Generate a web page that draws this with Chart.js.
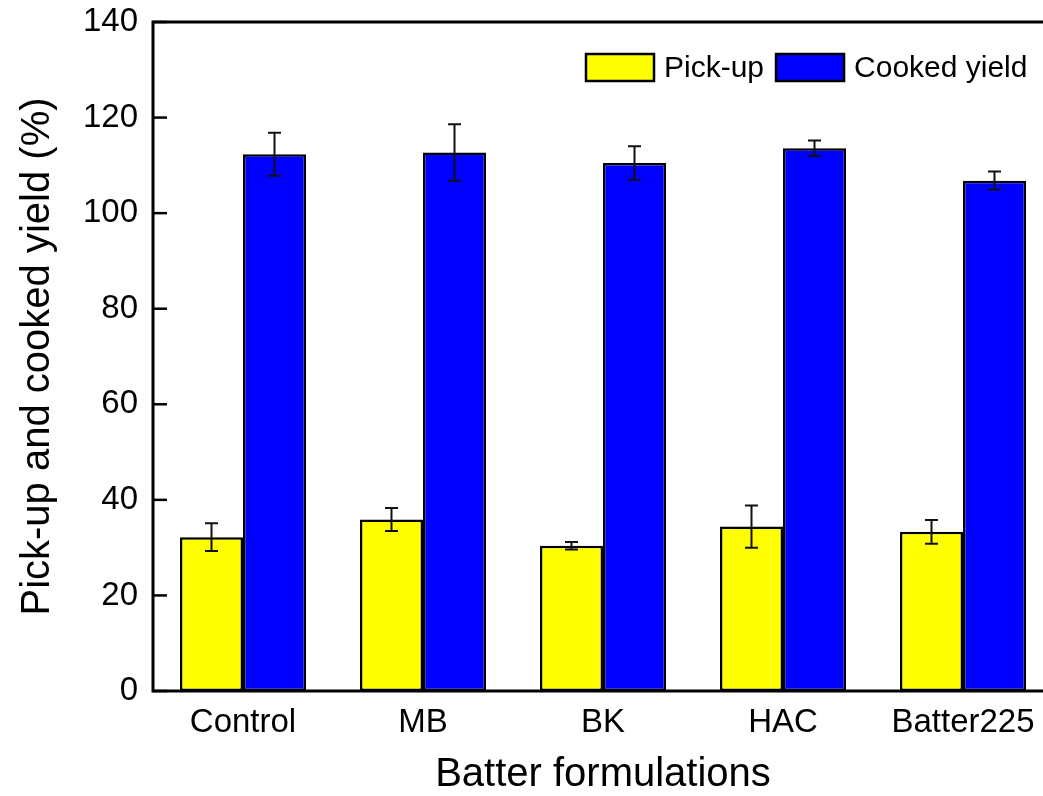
<!DOCTYPE html>
<html>
<head>
<meta charset="utf-8">
<title>Pick-up and cooked yield</title>
<script src="https://cdn.jsdelivr.net/npm/chart.js@4.4.1/dist/chart.umd.min.js"></script>
<style>
  html, body { margin: 0; padding: 0; background: #fff; overflow: hidden; }
  #wrap { position: relative; width: 1070px; height: 796px; }
</style>
</head>
<body>
<div id="wrap"><canvas id="chart" width="1070" height="796"></canvas></div>
<script>
// Batter formulations and measured yields (%), mean ± SD
const categories = ['Control', 'MB', 'BK', 'HAC', 'Batter225'];
const pickUp = [32.2, 35.9, 30.4, 34.4, 33.3];
const pickUpErr = [2.9, 2.4, 0.8, 4.4, 2.5];
const cookedYield = [112.3, 112.7, 110.5, 113.6, 106.8];
const cookedYieldErr = [4.5, 5.9, 3.5, 1.6, 1.9];
const yTicks = [0, 20, 40, 60, 80, 100, 120, 140];

const FONT = '"Liberation Sans", Arial, Helvetica, sans-serif';

// Error bars with caps, drawn on top of each bar
const errorBars = {
  id: 'errorBars',
  afterDatasetsDraw(chart) {
    const { ctx, scales: { y } } = chart;
    ctx.save();
    ctx.strokeStyle = '#111';
    ctx.lineWidth = 2;
    chart.data.datasets.forEach((ds, i) => {
      const meta = chart.getDatasetMeta(i);
      meta.data.forEach((bar, j) => {
        const v = ds.data[j], e = ds.errors[j];
        const yTop = y.getPixelForValue(v + e);
        const yBot = y.getPixelForValue(v - e);
        const cap = 6.5;
        ctx.beginPath();
        ctx.moveTo(bar.x, yTop); ctx.lineTo(bar.x, yBot);
        ctx.moveTo(bar.x - cap, yTop); ctx.lineTo(bar.x + cap, yTop);
        ctx.moveTo(bar.x - cap, yBot); ctx.lineTo(bar.x + cap, yBot);
        ctx.stroke();
      });
    });
    ctx.restore();
  }
};

// Plot frame, inward y ticks and the in-plot legend
const frameAndLegend = {
  id: 'frameAndLegend',
  afterDraw(chart) {
    const { ctx, chartArea: a, scales: { y } } = chart;
    ctx.save();
    ctx.strokeStyle = '#000';
    ctx.lineWidth = 3;
    ctx.strokeRect(a.left, a.top, a.right - a.left, a.bottom - a.top);
    ctx.lineWidth = 2.5;
    y.ticks.forEach(t => {
      const py = y.getPixelForValue(t.value);
      ctx.beginPath();
      ctx.moveTo(a.left, py); ctx.lineTo(a.left + 14, py);
      ctx.stroke();
    });

    // legend
    ctx.font = '30px ' + FONT;
    ctx.textBaseline = 'middle';
    ctx.textAlign = 'left';
    let x = 586;
    const by = 54, bw = 68, bh = 27;
    chart.data.datasets.forEach(ds => {
      ctx.fillStyle = ds.backgroundColor;
      ctx.fillRect(x, by, bw, bh);
      ctx.lineWidth = 2.5;
      ctx.strokeStyle = '#000';
      ctx.strokeRect(x, by, bw, bh);
      x += bw + 10;
      ctx.fillStyle = '#000';
      ctx.fillText(ds.label, x, by + bh / 2 + 1);
      x += ctx.measureText(ds.label).width + 12;
    });
    ctx.restore();
  }
};

new Chart(document.getElementById('chart'), {
  type: 'bar',
  data: {
    labels: categories,
    datasets: [
      { label: 'Pick-up', data: pickUp, errors: pickUpErr,
        backgroundColor: '#FFFF00', borderColor: '#000', borderWidth: 2.5,
        borderSkipped: false, categoryPercentage: 0.7, barPercentage: 1.0 },
      { label: 'Cooked yield', data: cookedYield, errors: cookedYieldErr,
        backgroundColor: '#0000FF', borderColor: '#000', borderWidth: 2.5,
        borderSkipped: false, categoryPercentage: 0.7, barPercentage: 1.0 }
    ]
  },
  options: {
    responsive: false,
    animation: false,
    layout: { padding: { left: 0, top: 22, right: 17, bottom: 0 } },
    plugins: { legend: { display: false }, tooltip: { enabled: false } },
    scales: {
      x: {
        grid: { display: false, drawTicks: false },
        border: { display: false },
        ticks: { color: '#000', font: { family: FONT, size: 33 }, padding: 12, maxRotation: 0 },
        title: { display: true, text: 'Batter formulations', color: '#000',
                 font: { family: FONT, size: 40, lineHeight: 1 }, padding: { top: 0, bottom: 1 } },
        afterFit(s) { s.height = 105; s.paddingLeft = 0; s.paddingRight = 0; }
      },
      y: {
        min: 0, max: 140,
        afterBuildTicks(s) { s.ticks = yTicks.map(v => ({ value: v })); },
        grid: { display: false, drawTicks: false },
        border: { display: false },
        ticks: { color: '#000', font: { family: FONT, size: 33 }, padding: 15 },
        title: { display: true, text: 'Pick-up and cooked yield (%)', color: '#000',
                 font: { family: FONT, size: 40, lineHeight: 1 }, padding: { top: 18, bottom: 0 } },
        afterFit(s) { s.width = 153; s.paddingTop = 0; s.paddingBottom = 0; }
      }
    }
  },
  plugins: [errorBars, frameAndLegend]
});
</script>
</body>
</html>
